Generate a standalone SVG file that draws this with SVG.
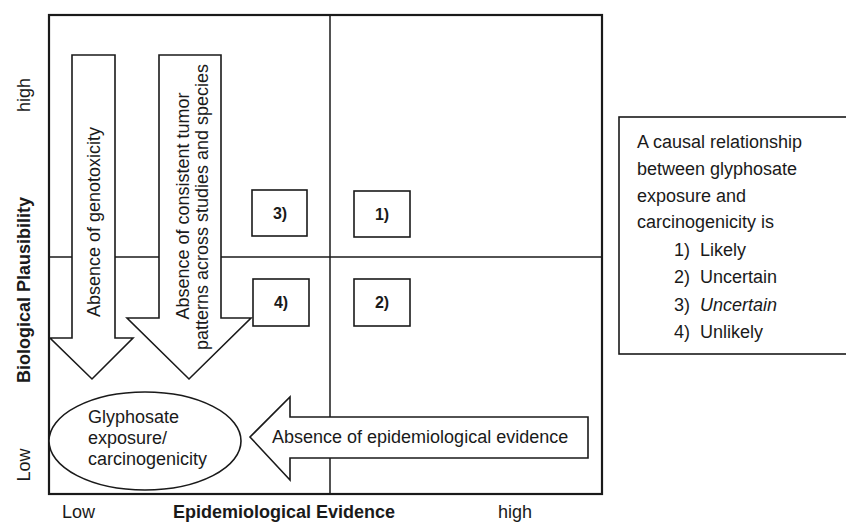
<svg xmlns="http://www.w3.org/2000/svg" width="846" height="523" viewBox="0 0 846 523">
<style>
text{font-family:"Liberation Sans",Arial,sans-serif;font-size:18px;fill:#1a1a1a}
.b{font-weight:bold}
.n{font-weight:bold;font-size:16px}
.shape{fill:#fff;stroke:#1a1a1a;stroke-width:1.6}
.div{stroke:#1a1a1a;stroke-width:1.5;fill:none}
</style>
<rect width="846" height="523" fill="#fff"/>
<g id="frame">
<rect x="49" y="15" width="553" height="479" fill="none" stroke="#1a1a1a" stroke-width="2.2"/>
<line class="div" x1="330" y1="15" x2="330" y2="494"/>
<line class="div" x1="49" y1="257" x2="602" y2="257"/>
</g>
<g id="axis-labels">
<text transform="translate(30,95) rotate(-90)" text-anchor="middle">high</text>
<text class="b" transform="translate(30,290) rotate(-90)" text-anchor="middle">Biological Plausibility</text>
<text transform="translate(30,465) rotate(-90)" text-anchor="middle">Low</text>
<text x="62" y="518">Low</text>
<text class="b" x="173" y="518">Epidemiological Evidence</text>
<text x="498" y="518">high</text>
</g>
<g id="connectors">
<g id="arrow-genotoxicity">
<polygon class="shape" points="72,55 115,55 115,338 133,338 92,379 50,338 72,338"/>
<text transform="translate(100,222) rotate(-90)" text-anchor="middle">Absence of genotoxicity</text>
</g>
<g id="arrow-tumor">
<polygon class="shape" points="159,55 221,55 221,318 251,318 189,379 127,318 159,318"/>
<text transform="translate(189,206) rotate(-90)" text-anchor="middle">Absence of consistent tumor</text>
<text transform="translate(208,207) rotate(-90)" text-anchor="middle">patterns across studies and species</text>
</g>
<g id="arrow-epidemiological">
<polygon class="shape" points="588,417 588,458 290,458 290,480 250,437 290,397 290,417"/>
<text x="272" y="443">Absence of epidemiological evidence</text>
</g>
</g>
<g id="box-3"><rect class="shape" x="252" y="190" width="55" height="46"/><text class="n" x="280" y="219" text-anchor="middle">3)</text></g>
<g id="box-1"><rect class="shape" x="354" y="191" width="56" height="46"/><text class="n" x="382" y="220" text-anchor="middle">1)</text></g>
<g id="box-4"><rect class="shape" x="253" y="279" width="56" height="47"/><text class="n" x="281" y="308" text-anchor="middle">4)</text></g>
<g id="box-2"><rect class="shape" x="354" y="279" width="56" height="47"/><text class="n" x="382" y="308" text-anchor="middle">2)</text></g>
<g id="ellipse-glyphosate">
<ellipse class="shape" cx="145" cy="441" rx="96" ry="49" stroke-width="2"/>
<text x="88" y="423">Glyphosate</text>
<text x="88" y="444">exposure/</text>
<text x="88" y="465">carcinogenicity</text>
</g>
<g id="legend">
<rect class="shape" x="619" y="117" width="240" height="237"/>
<text x="637" y="148">A causal relationship</text>
<text x="637" y="175">between glyphosate</text>
<text x="637" y="202">exposure and</text>
<text x="637" y="228">carcinogenicity is</text>
<text x="674" y="256">1)</text><text x="700" y="256">Likely</text>
<text x="674" y="283">2)</text><text x="700" y="283">Uncertain</text>
<text x="674" y="311">3)</text><text x="700" y="311" font-style="italic">Uncertain</text>
<text x="674" y="338">4)</text><text x="700" y="338">Unlikely</text>
</g>
</svg>
